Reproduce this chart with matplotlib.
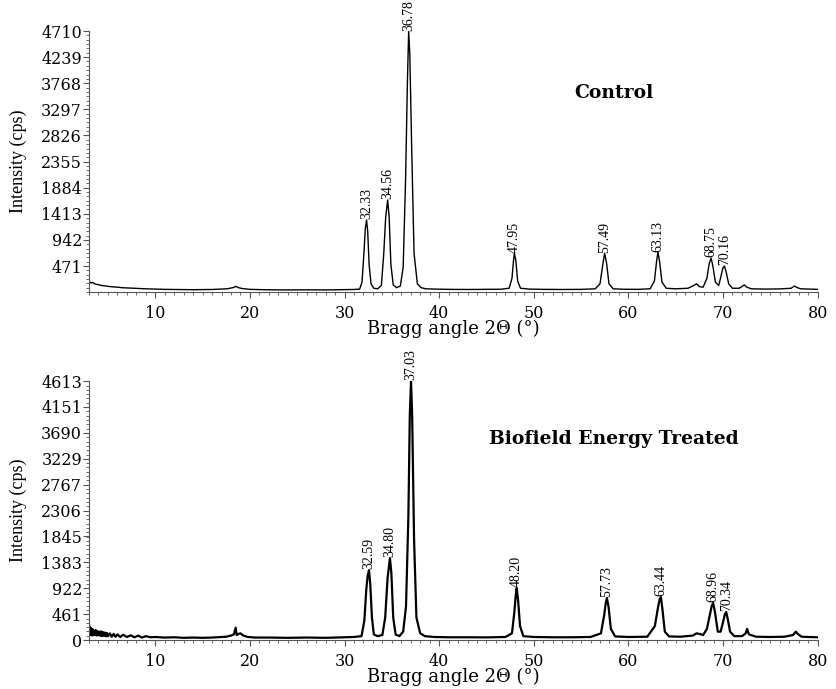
import matplotlib.pyplot as plt
from matplotlib.ticker import MultipleLocator, AutoMinorLocator, FixedLocator

ctrl_theta = [3.0, 3.2, 3.4, 3.6, 3.8, 4.0, 4.3, 4.6, 5.0, 5.5, 6.0, 6.5, 7.0, 7.5, 8.0,
              8.5, 9.0, 10.0, 11.0, 12.0, 13.0, 14.0, 15.0, 16.0, 17.0, 17.6, 18.0, 18.3,
              18.5, 18.8, 19.2, 20.0, 21.0, 22.0, 24.0, 26.0, 28.0, 30.0, 31.0, 31.6,
              31.85, 32.05, 32.2, 32.33, 32.45, 32.6, 32.8, 33.1, 33.5, 33.9, 34.15,
              34.35, 34.56, 34.72, 34.9, 35.15, 35.5, 35.9, 36.2, 36.45, 36.65, 36.78,
              36.9, 37.1, 37.35, 37.7, 38.1, 38.6, 39.5, 41.0, 43.0, 45.0, 46.5, 47.4,
              47.7, 47.85, 47.95, 48.1, 48.3, 48.6, 49.5, 51.0, 53.0, 55.0, 56.5, 57.0,
              57.3, 57.49, 57.7, 57.95, 58.4, 59.5, 61.0, 62.3, 62.75, 63.0, 63.13, 63.3,
              63.55, 64.0, 65.0, 66.3, 66.9, 67.2, 67.5, 67.9, 68.3, 68.55, 68.75, 68.95,
              69.2, 69.55, 69.85, 70.0, 70.16, 70.35, 70.6, 71.0, 71.7, 72.0, 72.25, 72.5,
              73.0, 74.5, 76.0, 77.2, 77.55, 77.8, 78.2, 79.0, 80.0]
ctrl_cps = [200, 165, 175, 150, 140, 135, 120, 115, 105, 95, 90, 80, 75, 72, 68,
            62, 60, 55, 50, 48, 45, 44, 45, 48, 55, 60, 75, 85,
            105, 80, 65, 50, 45, 42, 40, 42, 40, 45, 48, 55,
            180, 700, 1150, 1300, 1100, 500, 150, 70, 60, 120, 700,
            1350, 1660, 1350, 500, 130, 80, 110, 450, 2000, 3800, 4700,
            4300, 2600, 700, 150, 80, 60, 55, 50, 48, 50, 52, 70,
            250, 550, 700, 580, 200, 70, 55, 50, 48, 50, 60, 150,
            500, 700, 520, 150, 60, 52, 50, 60, 200, 580, 720, 550,
            180, 70, 60, 70, 120, 150, 100, 90, 250, 520, 615, 450,
            180, 120, 330, 440, 470, 350, 150, 70, 70, 100, 130, 90,
            60, 55, 58, 70, 110, 85, 60, 55, 50]
ctrl_ticks = [471, 942, 1413, 1884, 2355, 2826, 3297, 3768, 4239, 4710]
ctrl_peaks = [32.33, 34.56, 36.78, 47.95, 57.49, 63.13, 68.75, 70.16]
ctrl_peak_cps = [1300, 1660, 4700, 700, 700, 720, 615, 470]

# Biofield energy treated sample
trt_theta = [3.0, 3.05, 3.1, 3.15, 3.2, 3.25, 3.3, 3.35, 3.4, 3.45, 3.5, 3.6, 3.7, 3.8,
             3.9, 4.0, 4.1, 4.2, 4.3, 4.4, 4.5, 4.6, 4.7, 4.8, 4.9, 5.0, 5.2, 5.4, 5.6,
             5.8, 6.0, 6.3, 6.6, 7.0, 7.4, 7.8, 8.2, 8.6, 9.0, 9.5, 10.0, 11.0,
             12.0, 13.0, 14.0, 15.0, 16.0, 17.0, 17.5, 18.0, 18.3, 18.5, 18.6, 18.8,
             19.0, 19.3, 19.8, 20.5, 22.0, 24.0, 26.0, 28.0, 30.0, 31.0, 31.8, 32.1,
             32.3, 32.45, 32.59, 32.72, 32.9, 33.1, 33.5, 34.0, 34.3, 34.55, 34.8,
             34.95, 35.15, 35.4, 35.8, 36.2, 36.5, 36.75, 36.9, 37.03, 37.15, 37.35,
             37.6, 38.0, 38.5, 39.5, 41.0, 43.0, 45.0, 47.0, 47.7, 47.95, 48.1, 48.2,
             48.35, 48.55, 48.9, 50.0, 52.0, 54.0, 56.0, 57.1, 57.45, 57.6, 57.73,
             57.9, 58.15, 58.6, 60.0, 62.0, 62.8, 63.15, 63.3, 63.44, 63.6, 63.85,
             64.3, 65.5, 66.8, 67.2, 67.5, 67.9, 68.3, 68.65, 68.8, 68.96, 69.15,
             69.45, 69.75, 70.05, 70.2, 70.34, 70.5, 70.75, 71.2, 72.0, 72.4, 72.55,
             72.75, 73.5, 75.0, 76.5, 77.4, 77.7, 77.9, 78.3, 79.0, 80.0]
trt_cps = [270, 110, 230, 90, 210, 100, 200, 80, 190, 95, 170, 90, 180, 80,
           160, 85, 150, 75, 155, 70, 140, 75, 135, 65, 125, 70, 120, 60, 110,
           60, 100, 55, 95, 55, 85, 50, 80, 45, 70, 50, 55, 45,
           50, 40, 45, 40, 45, 55, 60, 80, 100, 220, 90, 110,
           120, 80, 55, 45, 45, 40, 45, 40, 50, 55, 70, 350,
           900, 1150, 1245, 1000, 400, 100, 70, 90, 400, 1100, 1460,
           1200, 400, 100, 70, 150, 600, 2200, 4000, 4613, 4000, 1800,
           400, 120, 70, 55, 50, 50, 48, 55, 120, 500, 800, 925,
           700, 250, 70, 55, 50, 50, 55, 120, 450, 650, 750,
           600, 200, 65, 55, 60, 250, 600, 720, 765, 550, 150,
           65, 60, 80, 120, 110, 90, 200, 480, 600, 660, 500,
           150, 150, 350, 460, 500, 380, 150, 70, 70, 120, 200,
           100, 60, 55, 60, 90, 150, 110, 60, 55, 50]
trt_ticks = [0, 461, 922, 1383, 1845, 2306, 2767, 3229, 3690, 4151, 4613]
trt_peaks = [32.59, 34.80, 37.03, 48.20, 57.73, 63.44, 68.96, 70.34]
trt_peak_cps = [1245, 1460, 4613, 925, 750, 765, 660, 500]

serif = ['DejaVu Serif']
cond = ['Liberation Serif']

fig = plt.figure(figsize=(8.36, 6.89), dpi=100)
ax1 = fig.add_axes([0.1065, 0.576, 0.8715, 0.379])
ax2 = fig.add_axes([0.1065, 0.071, 0.8715, 0.376])

panels = [
    (ax1, ctrl_theta, ctrl_cps, ctrl_ticks, ctrl_peaks, ctrl_peak_cps, 4710,
     'Control', 0.72, 0.762, 1.0),
    (ax2, trt_theta, trt_cps, trt_ticks, trt_peaks, trt_peak_cps, 4613,
     'Biofield Energy Treated', 0.72, 0.776, 1.6),
]

for ax, tt, cps, ticks, peaks, pcps, ytop, title, tx, ty, lw in panels:
    ax.plot(tt, cps, color='black', lw=lw)
    ax.set_xlim(3, 80)
    ax.set_ylim(0, ytop)
    for s in ['top', 'right']:
        ax.spines[s].set_visible(False)
    ax.spines['left'].set_color('#555555')
    ax.spines['bottom'].set_color('#555555')
    ax.xaxis.set_major_locator(FixedLocator([10, 20, 30, 40, 50, 60, 70, 80]))
    ax.xaxis.set_minor_locator(MultipleLocator(1))
    ax.yaxis.set_major_locator(FixedLocator(ticks))
    ax.yaxis.set_minor_locator(AutoMinorLocator(6))
    ax.tick_params(axis='both', which='major', length=4, width=0.8, color='#555555')
    ax.tick_params(axis='both', which='minor', length=2.5, width=0.6, color='#555555')
    ax.tick_params(axis='x', pad=5)
    ax.tick_params(axis='y', pad=1)
    for lab in ax.get_xticklabels() + ax.get_yticklabels():
        lab.set_family(serif)
        lab.set_fontsize(11.5)
    ax.set_xlabel('Bragg angle 2\u0398 (\u00b0)', family=serif, fontsize=13, labelpad=-1)
    ax.set_ylabel('Intensity (cps)', family=cond, fontsize=13, labelpad=10)
    ax.text(tx, ty, title, transform=ax.transAxes, ha='center', va='center',
            family=serif, fontweight='bold', fontsize=13.5)
    for p, h in zip(peaks, pcps):
        ax.annotate(f'{p:.2f}', (p, h), xytext=(0, 0.5), textcoords='offset points',
                    rotation=90, ha='center', va='bottom', family=cond,
                    fontsize=10, annotation_clip=False)

fig.savefig('out.png', dpi=100)
